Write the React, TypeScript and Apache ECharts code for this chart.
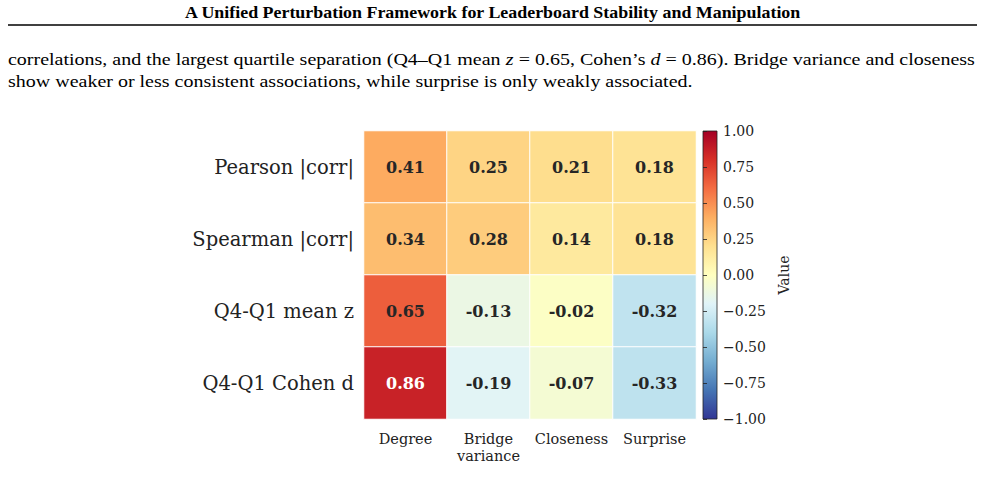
import React, { useEffect, useRef } from "react";
import * as echarts from "echarts";

// Heatmap categories and values
const metrics = ["Degree", "Bridge\nvariance", "Closeness", "Surprise"];
const rows = ["Pearson |corr|", "Spearman |corr|", "Q4-Q1 mean z", "Q4-Q1 Cohen d"];
const pearson = [0.41, 0.25, 0.21, 0.18];
const spearman = [0.34, 0.28, 0.14, 0.18];
const meanZ = [0.65, -0.13, -0.02, -0.32];
const cohenD = [0.86, -0.19, -0.07, -0.33];
const rowValues = [pearson, spearman, meanZ, cohenD];

// RdYlBu reversed, from -1 to 1
const rdYlBuR = [
  "#313695", "#4575b4", "#74add1", "#abd9e9", "#e0f3f8", "#ffffbf",
  "#fee090", "#fdae61", "#f46d43", "#d73027", "#a50026",
];

const title = "A Unified Perturbation Framework for Leaderboard Stability and Manipulation";
const serif = "'Liberation Serif', 'Times New Roman', serif";
const dejavu = "'DejaVu Serif', serif";

export default function App() {
  const ref = useRef<HTMLDivElement>(null);

  useEffect(() => {
    if (!ref.current) return;
    const chart = echarts.init(ref.current, null, { renderer: "svg" });

    const data: any[] = [];
    rowValues.forEach((vals, r) => {
      vals.forEach((v, c) => {
        data.push({
          value: [c, r, v],
          label: { color: Math.abs(v) > 0.75 ? "#ffffff" : "#262626" },
        });
      });
    });

    const stops = rdYlBuR
      .slice()
      .reverse()
      .map((color, i) => ({ offset: i / (rdYlBuR.length - 1), color }));

    chart.setOption({
      animation: false,
      backgroundColor: "#ffffff",
      grid: [
        { left: 364, top: 131, width: 332, height: 288, containLabel: false },
        {
          left: 703,
          top: 131,
          width: 14,
          height: 288,
          show: true,
          borderColor: "#222",
          borderWidth: 0.8,
          backgroundColor: {
            type: "linear",
            x: 0,
            y: 0,
            x2: 0,
            y2: 1,
            colorStops: stops,
          },
        },
      ],
      xAxis: [
        {
          type: "category",
          data: metrics,
          gridIndex: 0,
          position: "bottom",
          axisLine: { show: false },
          axisTick: { show: false },
          splitLine: { show: false },
          axisLabel: {
            fontFamily: dejavu,
            fontSize: 14.5,
            color: "#222",
            margin: 11,
            lineHeight: 17,
            interval: 0,
          },
        },
        { type: "value", gridIndex: 1, show: false, min: 0, max: 1 },
      ],
      yAxis: [
        {
          type: "category",
          data: rows,
          gridIndex: 0,
          inverse: true,
          axisLine: { show: false },
          axisTick: { show: false },
          splitLine: { show: false },
          axisLabel: {
            fontFamily: dejavu,
            fontSize: 19.5,
            color: "#222",
            margin: 10,
          },
        },
        {
          type: "value",
          gridIndex: 1,
          position: "right",
          min: -1,
          max: 1,
          interval: 0.25,
          axisLine: { show: false },
          splitLine: { show: false },
          axisTick: { show: true, length: 4, lineStyle: { color: "#222", width: 0.8 } },
          axisLabel: {
            fontFamily: dejavu,
            fontSize: 14,
            color: "#222",
            margin: 6,
            formatter: (v: number) => (v < 0 ? "\u2212" + Math.abs(v).toFixed(2) : v.toFixed(2)),
          },
          name: "Value",
          nameLocation: "middle",
          nameRotate: 90,
          nameGap: 60,
          nameTextStyle: { fontFamily: dejavu, fontSize: 14, color: "#222" },
        },
      ],
      visualMap: {
        show: false,
        type: "continuous",
        min: -1,
        max: 1,
        seriesIndex: 0,
        inRange: { color: rdYlBuR },
      },
      series: [
        {
          type: "heatmap",
          xAxisIndex: 0,
          yAxisIndex: 0,
          data,
          itemStyle: { borderColor: "#ffffff", borderWidth: 1 },
          label: {
            show: true,
            fontFamily: dejavu,
            fontWeight: "bold",
            fontSize: 16,
            formatter: (p: any) => p.value[2].toFixed(2),
          },
          emphasis: { disabled: true },
        },
      ],
      graphic: [
        {
          type: "text",
          x: 185,
          y: 5,
          scaleX: 1.12,
          style: {
            text: title,
            font: `bold 16px ${serif}`,
            fill: "#000",
          },
        },
        {
          type: "line",
          shape: { x1: 8, y1: 25, x2: 977, y2: 25 },
          style: { stroke: "#000", lineWidth: 1.6 },
        },
        {
          type: "text",
          x: 8,
          y: 50,
          scaleX: 1.143,
          style: {
            text:
              "correlations, and the largest quartile separation (Q4\u2013Q1 mean {i|z} = 0.65, Cohen\u2019s {i|d} = 0.86). Bridge variance and closeness",
            font: `17.5px ${serif}`,
            fill: "#000",
            rich: { i: { fontStyle: "italic", fontFamily: serif, fontSize: 17.5 } },
          },
        },
        {
          type: "text",
          x: 8,
          y: 72,
          scaleX: 1.143,
          style: {
            text: "show weaker or less consistent associations, while surprise is only weakly associated.",
            font: `17.5px ${serif}`,
            fill: "#000",
          },
        },
      ],
    });

    return () => chart.dispose();
  }, []);

  return (
    <div
      ref={ref}
      style={{ position: "fixed", left: 0, top: 0, width: 985, height: 481 }}
    />
  );
}
